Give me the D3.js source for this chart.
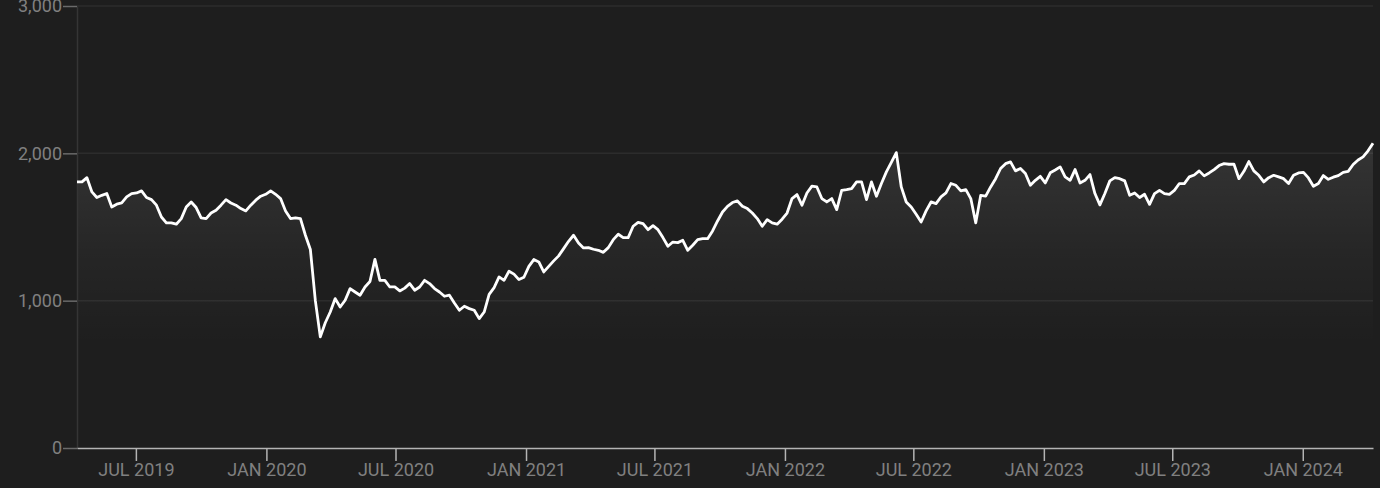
<!DOCTYPE html>
<html>
<head>
<meta charset="utf-8">
<script src="https://cdn.jsdelivr.net/npm/d3@7"></script>
<style>
  html, body { margin: 0; padding: 0; background: #1e1e1e; }
  svg { display: block; }
</style>
</head>
<body>
<svg id="chart" width="1380" height="488"></svg>
<script>
// ---- data ----
const startDate = "2019-04-09";   // first weekly observation
const values = [
  1806,1806,1835,1738,1700,1715,1727,1636,1655,1663,
  1704,1727,1731,1745,1700,1686,1648,1568,1528,1528,
  1519,1557,1636,1670,1632,1562,1557,1595,1614,1648,
  1686,1663,1648,1625,1609,1648,1682,1709,1722,1745,
  1722,1693,1609,1557,1562,1557,1444,1347,1000,754,
  850,923,1014,957,1003,1082,1059,1037,1093,1130,
  1280,1138,1138,1093,1093,1066,1085,1116,1071,1093,
  1138,1116,1082,1059,1030,1037,984,935,962,946,
  935,878,923,1043,1089,1161,1138,1200,1180,1143,
  1159,1233,1279,1263,1195,1233,1270,1304,1353,1403,
  1444,1392,1358,1360,1349,1342,1328,1360,1414,1451,
  1428,1428,1505,1532,1523,1482,1509,1482,1428,1369,
  1398,1394,1410,1342,1376,1414,1421,1421,1473,1541,
  1602,1640,1666,1677,1641,1625,1595,1557,1505,1550,
  1528,1519,1553,1595,1693,1720,1648,1731,1777,1772,
  1693,1670,1693,1618,1749,1754,1761,1806,1806,1686,
  1806,1709,1795,1874,1939,2005,1772,1670,1636,1587,
  1534,1609,1670,1659,1704,1731,1795,1783,1745,1754,
  1693,1528,1715,1709,1772,1828,1897,1930,1942,1881,
  1897,1863,1783,1817,1844,1799,1868,1887,1908,1840,
  1817,1890,1799,1817,1856,1727,1650,1727,1813,1835,
  1828,1813,1715,1731,1700,1722,1654,1727,1749,1727,
  1722,1749,1795,1795,1840,1853,1881,1847,1867,1890,
  1917,1930,1926,1926,1828,1878,1944,1881,1851,1806,
  1835,1851,1840,1828,1795,1851,1867,1871,1833,1776,
  1795,1849,1824,1838,1849,1871,1878,1924,1955,1976,
  2017,2069
];
const yTicks = [0, 1000, 2000, 3000];
const yDomain = [0, 3000];

// ---- layout ----
const W = 1380, H = 488;
const mLeft = 77, mRight = 1373, mTop = 6, mBottom = 448;
const FONT = "Roboto, 'Noto Sans', sans-serif";

const parse = d3.utcParse("%Y-%m-%d");
const t0 = parse(startDate);
const data = values.map((v, i) => ({ date: d3.utcDay.offset(t0, 7 * i), value: v }));

const x = d3.scaleUtc().domain(d3.extent(data, d => d.date)).range([mLeft, mRight]);
const y = d3.scaleLinear().domain(yDomain).range([mBottom, mTop]);

const svg = d3.select("#chart");
svg.append("rect").attr("width", W).attr("height", H).attr("fill", "#1e1e1e");

// gradient for area
const defs = svg.append("defs");
const grad = defs.append("linearGradient")
  .attr("id", "areaGrad").attr("gradientUnits", "userSpaceOnUse")
  .attr("x1", 0).attr("x2", 0)
  .attr("y1", y(2070)).attr("y2", y(700));
grad.append("stop").attr("offset", "0%").attr("stop-color", "#ffffff").attr("stop-opacity", 0.1);
grad.append("stop").attr("offset", "55%").attr("stop-color", "#ffffff").attr("stop-opacity", 0.035);
grad.append("stop").attr("offset", "100%").attr("stop-color", "#ffffff").attr("stop-opacity", 0);

// gridlines
svg.append("g")
  .selectAll("line")
  .data(yTicks.filter(d => d > 0))
  .join("line")
  .attr("x1", mLeft).attr("x2", mRight)
  .attr("y1", d => y(d)).attr("y2", d => y(d))
  .attr("stroke", "#2c2c2c").attr("stroke-width", 1.5);

// area
svg.append("path")
  .datum(data)
  .attr("fill", "url(#areaGrad)")
  .attr("d", d3.area().x(d => x(d.date)).y0(mBottom).y1(d => y(d.value)));

// y axis
const yAxis = svg.append("g")
  .attr("transform", `translate(${mLeft},0)`)
  .call(d3.axisLeft(y).tickValues(yTicks).tickFormat(d3.format(",")).tickSize(14).tickPadding(1).tickSizeOuter(0));
yAxis.select(".domain").attr("stroke", "#353535").attr("stroke-width", 1.5);
yAxis.selectAll(".tick line").attr("stroke", "#6a6a6a").attr("stroke-width", 1.5);
yAxis.selectAll(".tick text").attr("fill", "#808080").style("font-family", FONT).style("font-size", "18px");

// line
svg.append("path")
  .datum(data)
  .attr("fill", "none")
  .attr("stroke", "#ffffff")
  .attr("stroke-width", 2.8)
  .attr("stroke-linejoin", "round")
  .attr("d", d3.line().x(d => x(d.date)).y(d => y(d.value)));

// x axis
const monthFmt = d3.utcFormat("%b %Y");
const xAxis = svg.append("g")
  .attr("transform", `translate(0,${mBottom})`)
  .call(d3.axisBottom(x).ticks(d3.utcMonth.every(6)).tickFormat(d => monthFmt(d).toUpperCase()).tickSize(13).tickPadding(2).tickSizeOuter(0));
xAxis.select(".domain").attr("stroke", "#b4b4b4").attr("stroke-width", 1.5);
xAxis.selectAll(".tick line").attr("stroke", "#b4b4b4").attr("stroke-width", 1.5);
xAxis.selectAll(".tick text").attr("fill", "#808080").style("font-family", FONT).style("font-size", "18px");
</script>
</body>
</html>
